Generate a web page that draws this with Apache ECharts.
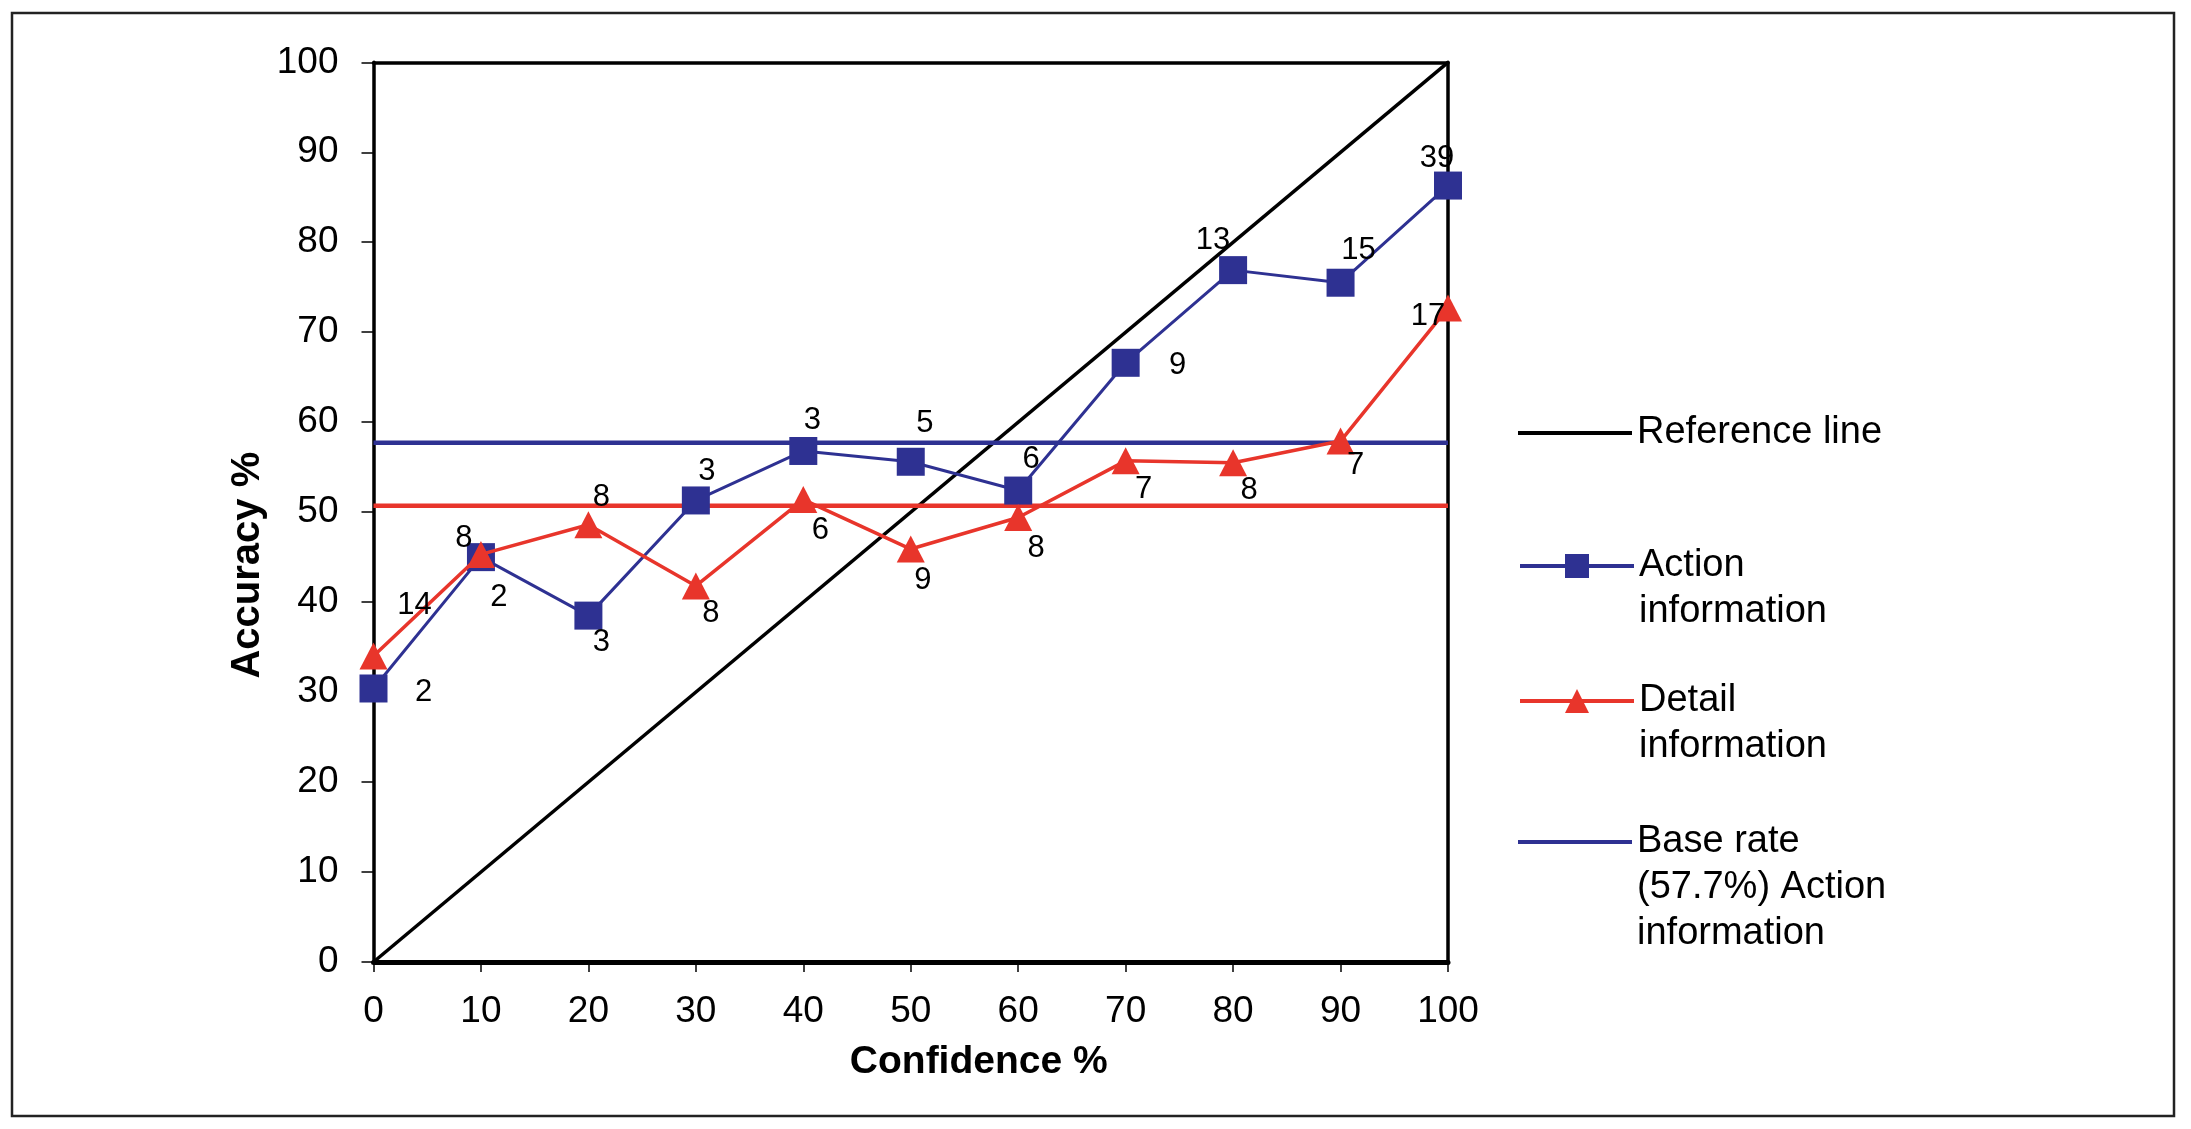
<!DOCTYPE html>
<html>
<head>
<meta charset="utf-8">
<script src="https://cdn.jsdelivr.net/npm/echarts@6/dist/echarts.min.js"></script>
<style>
html,body{margin:0;padding:0;background:#fff;}
#chart{width:2191px;height:1129px;}
</style>
</head>
<body>
<div id="chart"></div>
<script>
// ---- data ----
var confidence = [0, 10, 20, 30, 40, 50, 60, 70, 80, 90, 100];
var actionAccuracy = [30.4, 45.0, 38.5, 51.3, 56.8, 55.6, 52.4, 66.6, 76.9, 75.5, 86.3];
var actionCounts = ['2', '2', '3', '3', '3', '5', '6', '9', '13', '15', '39'];
var detailAccuracy = [34.0, 45.3, 48.6, 41.8, 51.4, 45.9, 49.4, 55.7, 55.5, 57.9, 72.7];
var detailCounts = ['14', '8', '8', '8', '6', '9', '8', '7', '8', '7', '17'];
var referenceLine = [[0, 0], [100, 100]];
var actionBaseRate = 57.7;
var detailBaseRate = 50.7;
var axisTicks = [0, 10, 20, 30, 40, 50, 60, 70, 80, 90, 100];

// ---- label placement (layout only) ----
var actionLabelOffsets = [[50,4],[18,40],[13,27],[11,-29],[9,-31],[14,-38],[13,-31],[52,3],[-20,-30],[18,-32],[-11,-27]];
var detailLabelOffsets = [[41,-51],[-17,-16],[13,-27],[15,28],[17,31],[12,31],[18,31],[18,29],[16,28],[15,24],[-20,9]];

var BLUE = '#2e3192', RED = '#e8352b', FONT = "'Liberation Sans', Arial, Helvetica, sans-serif";

function pointsWithLabels(xs, ys, labels, offsets) {
  return xs.map(function (x, i) {
    return { value: [x, ys[i]], label: { formatter: labels[i], offset: offsets[i] } };
  });
}

// Legend text: blank leading lines keep the first text line level with the symbol
var legendNames = {
  'Reference line': 'Reference line',
  'Action information': '\nAction\ninformation',
  'Detail information': '\nDetail\ninformation',
  'Base rate (57.7%) Action information': '\n\nBase rate\n(57.7%) Action\ninformation'
};

function mkLegend(item, top, plain) {
  return {
    data: [item], left: 1513, top: top, orient: 'vertical',
    itemWidth: 114, itemHeight: plain ? 4 : 30, selectedMode: false,
    formatter: function (n) { return legendNames[n]; },
    lineStyle: { width: 4 },
    textStyle: { fontFamily: FONT, fontSize: 38, lineHeight: 46, color: '#000' }
  };
}

var chart = echarts.init(document.getElementById('chart'));
var dataLabel = {
  show: true, position: 'inside', fontFamily: FONT, fontSize: 31, color: '#000'
};
chart.setOption({
  animation: false,
  backgroundColor: '#fff',
  graphic: [{
    type: 'rect', shape: { x: 12, y: 13, width: 2162, height: 1103 },
    style: { fill: 'none', stroke: '#222', lineWidth: 2.5 }, silent: true
  }],
  grid: { left: 373.5, top: 62.3, right: 743, bottom: 167, containLabel: false },
  legend: [
    mkLegend({ name: 'Reference line', icon: 'rect', itemStyle: { color: '#000' } }, 405, true),
    mkLegend('Action information', 492, false),
    mkLegend('Detail information', 627, false),
    mkLegend({ name: 'Base rate (57.7%) Action information', icon: 'rect', itemStyle: { color: BLUE } }, 722, true)
  ],
  xAxis: [{
    type: 'value', min: 0, max: 100, interval: 10, position: 'bottom',
    name: 'Confidence %', nameLocation: 'middle', nameGap: 81,
    nameTextStyle: { fontFamily: FONT, fontSize: 39, fontWeight: 'bold', color: '#000', padding: [0, 0, 0, 136] },
    axisLine: { show: true, onZero: false, lineStyle: { color: '#000', width: 5 } },
    axisTick: { show: true, inside: false, length: 10, lineStyle: { color: '#000', width: 1.5 } },
    axisLabel: { margin: 31, fontFamily: FONT, fontSize: 37, color: '#000',
      customValues: axisTicks },
    splitLine: { show: false }
  }, {
    type: 'value', min: 0, max: 100, position: 'top',
    axisLine: { show: true, onZero: false, lineStyle: { color: '#000', width: 3.5 } },
    axisTick: { show: false }, axisLabel: { show: false }, splitLine: { show: false }
  }],
  yAxis: [{
    type: 'value', min: 0, max: 100, interval: 10, position: 'left',
    name: 'Accuracy %', nameLocation: 'middle', nameGap: 106,
    nameTextStyle: { fontFamily: FONT, fontSize: 40, fontWeight: 'bold', color: '#000', padding: [0, 106, 0, 0] },
    axisLine: { show: true, onZero: false, lineStyle: { color: '#000', width: 3.5 } },
    axisTick: { show: true, inside: false, length: 12, lineStyle: { color: '#000', width: 1.5 } },
    axisLabel: { margin: 35, fontFamily: FONT, fontSize: 37, color: '#000' },
    splitLine: { show: false }
  }, {
    type: 'value', min: 0, max: 100, position: 'right',
    axisLine: { show: true, onZero: false, lineStyle: { color: '#000', width: 3.5 } },
    axisTick: { show: false }, axisLabel: { show: false }, splitLine: { show: false }
  }],
  series: [{
    name: 'Reference line', type: 'line', data: referenceLine,
    showSymbol: false, symbol: 'none', color: '#000',
    lineStyle: { color: '#000', width: 3.5 }, z: 2
  }, {
    name: 'Base rate (57.7%) Action information', type: 'line',
    data: [[0, actionBaseRate], [100, actionBaseRate]],
    symbol: 'none', color: BLUE, lineStyle: { color: BLUE, width: 4.5 }, z: 3
  }, {
    name: 'Base rate (50.7%) Detail information', type: 'line',
    data: [[0, detailBaseRate], [100, detailBaseRate]],
    symbol: 'none', color: RED, lineStyle: { color: RED, width: 4.5 }, z: 3
  }, {
    name: 'Action information', type: 'line',
    data: pointsWithLabels(confidence, actionAccuracy, actionCounts, actionLabelOffsets),
    symbol: 'rect', symbolSize: 28, clip: false, color: BLUE,
    itemStyle: { color: BLUE }, lineStyle: { color: BLUE, width: 3 },
    label: dataLabel, z: 4
  }, {
    name: 'Detail information', type: 'line',
    data: pointsWithLabels(confidence, detailAccuracy, detailCounts, detailLabelOffsets),
    symbol: 'triangle', symbolSize: [28, 27], clip: false, color: RED,
    itemStyle: { color: RED }, lineStyle: { color: RED, width: 3.5 },
    label: dataLabel, z: 5
  }]
});
</script>
</body>
</html>
